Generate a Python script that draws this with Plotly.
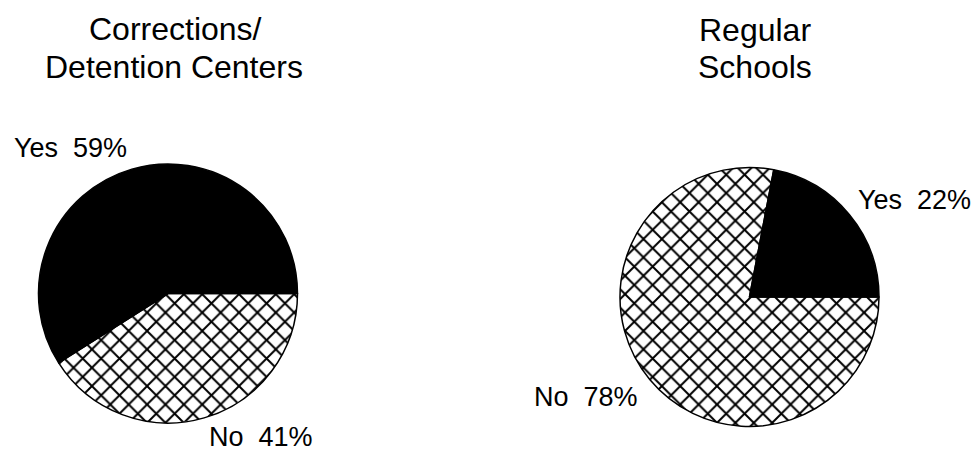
import plotly.graph_objects as go

W, H = 979, 453

# Survey answers per setting (percent); "No" listed first so that, going
# counterclockwise from 3 o'clock, the "Yes" slice follows it.
answers = ["No", "Yes"]
corrections_pct = [41, 59]
schools_pct = [78, 22]

titles_left = ["Corrections/", "Detention Centers"]
titles_right = ["Regular", "Schools"]

FONT = "Liberation Sans, Arial, Helvetica, sans-serif"


def px_x(v):
    return v / W


def px_y(v):
    return 1 - v / H


def domain(cx, cy, r):
    return dict(x=[px_x(cx - r), px_x(cx + r)], y=[px_y(cy + r), px_y(cy - r)])


pie_style = dict(
    sort=False,
    direction="counterclockwise",
    rotation=90,
    textinfo="none",
    hoverinfo="label+percent",
    showlegend=False,
    marker=dict(
        colors=["white", "black"],
        line=dict(color="black", width=1.5),
        pattern=dict(shape=["x", ""], fgcolor="black", bgcolor="white",
                     size=13, solidity=0.28),
    ),
)

fig = go.Figure()
fig.add_trace(go.Pie(labels=answers, values=corrections_pct,
                     domain=domain(168, 293.5, 129.5), **pie_style))
fig.add_trace(go.Pie(labels=answers, values=schools_pct,
                     domain=domain(749.5, 297, 129.5), **pie_style))

annotations = []


def add_text(text, x, y, size, anchor="center"):
    annotations.append(dict(
        text=text, x=px_x(x), y=px_y(y), xref="paper", yref="paper",
        xanchor=anchor, yanchor="middle", showarrow=False,
        font=dict(family=FONT, size=size, color="black"),
    ))


# Chart titles, one annotation per line
add_text(titles_left[0], 175, 29, 32)
add_text(titles_left[1], 174, 67, 32)
add_text(titles_right[0], 755, 30, 32)
add_text(titles_right[1], 755, 67, 32)

# Slice labels
sp = "\u00a0\u00a0"
add_text(f"{answers[1]}{sp}{corrections_pct[1]}%", 12, 148, 27, "left")
add_text(f"{answers[0]}{sp}{corrections_pct[0]}%", 207, 437, 27, "left")
add_text(f"{answers[1]}{sp}{schools_pct[1]}%", 856, 200, 27, "left")
add_text(f"{answers[0]}{sp}{schools_pct[0]}%", 532, 397, 27, "left")

fig.update_layout(
    width=W, height=H,
    margin=dict(l=0, r=0, t=0, b=0),
    paper_bgcolor="white",
    plot_bgcolor="white",
    annotations=annotations,
)

fig.write_html("out.html")
